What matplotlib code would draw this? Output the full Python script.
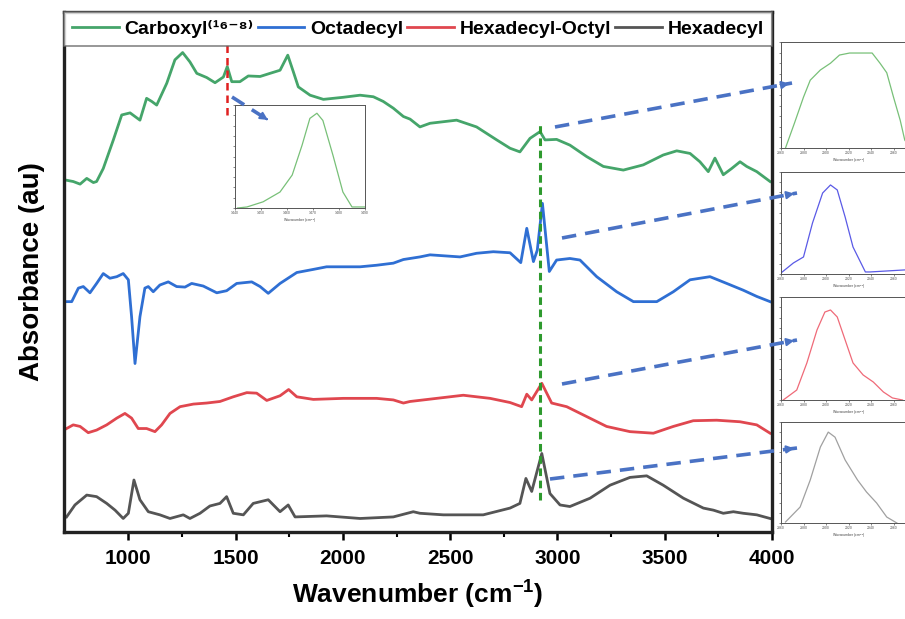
import matplotlib
matplotlib.use("Agg")
import matplotlib.pyplot as plt
from matplotlib.lines import Line2D
from matplotlib.patches import FancyArrowPatch

plt.rcParams['font.family'] = ['Liberation Sans', 'DejaVu Sans']
plt.rcParams['font.weight'] = 'bold'
plt.rcParams['mathtext.fontset'] = 'custom'
plt.rcParams['mathtext.rm'] = 'Liberation Sans:bold'
plt.rcParams['mathtext.bf'] = 'Liberation Sans:bold'
plt.rcParams['mathtext.it'] = 'Liberation Sans:bold'

# ---- stacked FTIR spectra (offset absorbance, a.u.) ----
carboxyl_wn = [705, 743, 775, 806, 837, 852, 883, 930, 969, 1008, 1054, 1085, 1109, 1132, 1179,
               1217, 1253, 1287, 1319, 1365, 1404, 1443, 1461, 1482, 1520, 1559, 1614, 1660,
               1707, 1743, 1769, 1792, 1847, 1909, 2002, 2080, 2142, 2188, 2235, 2282, 2313,
               2359, 2406, 2530, 2623, 2717, 2779, 2825, 2872, 2919, 2942, 2996, 3058, 3136,
               3214, 3307, 3400, 3493, 3556, 3618, 3664, 3703, 3734, 3773, 3812, 3851, 3882,
               3929, 3991]
carboxyl_ab = [.677, .674, .669, .680, .672, .674, .699, .754, .802, .806, .792, .834, .828, .821,
               .863, .908, .922, .904, .882, .874, .864, .875, .895, .866, .866, .877, .876, .882,
               .888, .917, .885, .856, .840, .832, .836, .840, .837, .828, .815, .799, .794,
               .779, .786, .792, .779, .754, .738, .731, .757, .770, .754, .755, .744, .722,
               .703, .696, .706, .725, .733, .728, .712, .693, .719, .687, .699, .712, .703,
               .693, .674]

octadecyl_wn = [705, 736, 767, 790, 821, 852, 883, 914, 946, 976, 1000, 1015, 1031, 1054, 1077,
                1093, 1116, 1147, 1186, 1225, 1264, 1295, 1349, 1412, 1458, 1505, 1575, 1614,
                1652, 1707, 1785, 1862, 1924, 2002, 2080, 2157, 2235, 2282, 2359, 2406, 2546,
                2623, 2701, 2779, 2829, 2857, 2888, 2906, 2930, 2962, 2996, 3058, 3105, 3183,
                3276, 3354, 3463, 3540, 3618, 3711, 3789, 3866, 3929, 3991]
octadecyl_ab = [.443, .443, .469, .472, .460, .478, .497, .488, .491, .497, .485, .414, .324, .414,
                .469, .472, .462, .475, .481, .472, .471, .478, .473, .460, .464, .478, .481, .472,
                .459, .478, .499, .505, .510, .510, .510, .513, .517, .524, .529, .533, .529,
                .536, .539, .537, .518, .584, .520, .542, .632, .501, .523, .526, .523, .491,
                .462, .443, .443, .462, .485, .491, .478, .465, .453, .443]

hexoct_wn = [712, 743, 775, 813, 852, 899, 946, 984, 1015, 1046, 1085, 1124, 1155, 1194, 1241,
             1303, 1365, 1427, 1489, 1552, 1598, 1645, 1707, 1747, 1785, 1862, 2002, 2157,
             2235, 2282, 2313, 2437, 2561, 2686, 2779, 2833, 2857, 2880, 2927, 2973, 3043,
             3136, 3229, 3338, 3447, 3540, 3633, 3742, 3851, 3929, 3991]
hexoct_ab = [.199, .206, .203, .191, .196, .206, .219, .228, .219, .199, .199, .193, .206, .228,
             .241, .246, .248, .251, .260, .268, .267, .253, .262, .274, .260, .255, .257, .257,
             .254, .248, .251, .257, .263, .257, .249, .241, .265, .254, .286, .248, .241,
             .222, .203, .193, .190, .203, .214, .215, .212, .206, .190]

hexadecyl_wn = [712, 751, 806, 852, 899, 938, 976, 1000, 1026, 1054, 1093, 1147, 1194, 1256,
                1287, 1334, 1380, 1427, 1458, 1489, 1536, 1582, 1652, 1707, 1745, 1777, 1924,
                2080, 2235, 2328, 2359, 2468, 2654, 2779, 2825, 2853, 2880, 2927, 2965, 3012,
                3058, 3152, 3245, 3338, 3416, 3493, 3587, 3680, 3727, 3773, 3820, 3866, 3929,
                3991]
hexadecyl_ab = [.029, .052, .071, .068, .055, .042, .026, .036, .100, .062, .039, .033, .026, .033,
                .026, .036, .050, .055, .068, .036, .033, .055, .062, .039, .052, .029, .031,
                .026, .029, .039, .036, .033, .033, .046, .055, .103, .078, .151, .074, .052,
                .049, .065, .090, .105, .108, .090, .065, .046, .042, .036, .039, .036, .033,
                .026]

# ---- zoomed peak profiles (normalised) ----
c1460_wn = [1441, 1444.6, 1450.8, 1457.3, 1462, 1465.8, 1468.8, 1471.5, 1473.8, 1477.7, 1481.5, 1485, 1490]
c1460_ab = [0, .01, .06, .155, .32, .61, .87, .92, .85, .51, .155, .01, .01]

z_carb_wn = [2864, 2872, 2880, 2886, 2895, 2904, 2912, 2921, 2933, 2941, 2948, 2954, 2960, 2966, 2970, 2975]
z_carb_ab = [0, .236, .48, .64, .736, .80, .877, .896, .896, .896, .80, .71, .48, .26, .075, 0]
z_octa_wn = [2860, 2871, 2880, 2888, 2897, 2904, 2910, 2917, 2924, 2935, 2939, 2970, 2980]
z_octa_ab = [.01, .108, .167, .5, .794, .873, .824, .559, .265, .02, .02, .04, .04]
z_hexo_wn = [2862, 2874, 2883, 2892, 2899, 2904, 2910, 2917, 2924, 2933, 2942, 2951, 2959, 2968]
z_hexo_ab = [0, .097, .36, .68, .854, .874, .806, .583, .36, .243, .175, .078, .02, 0]
z_hexa_wn = [2864, 2877, 2886, 2895, 2902, 2908, 2917, 2928, 2936, 2945, 2954, 2963]
z_hexa_ab = [.01, .158, .426, .752, .90, .85, .624, .426, .307, .198, .059, 0]

labels = ["Carboxyl\u207d\u00b9\u2076\u207b\u2078\u207e", "Octadecyl", "Hexadecyl-Octyl", "Hexadecyl"]
colors = ["#45a56a", "#2f6fd3", "#e0474f", "#555555"]
light = ["#78c078", "#5a5ae6", "#ef6a78", "#a0a0a0"]

W, H = 905, 619
fig = plt.figure(figsize=(W / 100, H / 100), dpi=100)


def box(x0, y0, x1, y1):
    return [x0 / W, 1 - y1 / H, (x1 - x0) / W, (y1 - y0) / H]


def fpt(px, py):
    return (px / W, 1 - py / H)


ax = fig.add_axes(box(64, 12, 772, 532))
series = [(carboxyl_wn, carboxyl_ab), (octadecyl_wn, octadecyl_ab),
          (hexoct_wn, hexoct_ab), (hexadecyl_wn, hexadecyl_ab)]
for (x, y), c, lab in zip(series, colors, labels):
    ax.plot(x, y, color=c, lw=2.0, label=lab, solid_joinstyle='round')

ax.plot([2920, 2920], [0.062, 0.783], color="#2e9a2e", lw=2.2, ls=(0, (2.5, 1.5)), zorder=5)
ax.plot([1460, 1460], [0.802, 0.946], color="#e02020", lw=1.8, ls=(0, (3, 2)), zorder=5)

ax.set_xlim(700, 4000)
ax.set_ylim(0, 1)
ax.set_xticks([1000, 1500, 2000, 2500, 3000, 3500, 4000])
ax.set_xticks([1250, 1750, 2250, 2750, 3250, 3750], minor=True)
ax.set_yticks([])
ax.tick_params(axis='x', which='major', direction='out', length=6, width=1.8,
               labelsize=15, pad=6)
ax.tick_params(axis='x', which='minor', direction='out', length=3.5, width=1.5)
for lbl in ax.get_xticklabels():
    lbl.set_fontweight('bold')
for s in ax.spines.values():
    s.set_linewidth(2.4)
    s.set_color("#222222")
ax.set_xlabel(r"Wavenumber (cm$^{-1}$)", fontsize=19, fontweight='bold', labelpad=8)
ax.set_ylabel("Absorbance (au)", fontsize=20, fontweight='bold', labelpad=14)

leg = ax.legend(loc='upper left', bbox_to_anchor=(0, 1, 1, 0), mode='expand', ncol=4,
                borderaxespad=0, fancybox=False, frameon=True, edgecolor="#666666",
                prop={'weight': 'bold', 'size': 14}, handlelength=2.4, handletextpad=0.3,
                columnspacing=0.2, borderpad=0.42)
leg.get_frame().set_linewidth(1.2)


def style_inset(a, xt, xlim):
    a.set_xlim(*xlim)
    a.set_ylim(0, 1)
    a.set_xticks(xt)
    a.set_xticklabels([str(v) for v in xt], fontsize=2.5, fontweight='normal', color="#444444")
    a.set_yticks([i / 10 for i in range(11)])
    a.set_yticklabels([])
    a.tick_params(axis='both', direction='out', length=1.5, width=0.5, pad=1, colors="#555555")
    a.set_xlabel(r"Wavenumber (cm$^{-1}$)", fontsize=2.5, labelpad=1, color="#444444")
    for s in a.spines.values():
        s.set_linewidth(0.7)
        s.set_color("#555555")


# zoom on the 1460 band
ins0 = fig.add_axes(box(235, 105, 365, 208))
ins0.plot(c1460_wn, c1460_ab, color=light[0], lw=0.9)
style_inset(ins0, [1440, 1450, 1460, 1470, 1480, 1490], (1440, 1490))

# zooms on the C-H stretching band of each sample
zoom_data = [(z_carb_wn, z_carb_ab, 42, 148), (z_octa_wn, z_octa_ab, 172, 274),
             (z_hexo_wn, z_hexo_ab, 297, 400), (z_hexa_wn, z_hexa_ab, 422, 523)]
for (x, y, t, b), c in zip(zoom_data, light):
    a = fig.add_axes(box(781, t, 916, b))
    a.plot(x, y, color=c, lw=0.9)
    style_inset(a, [2860, 2880, 2900, 2920, 2940, 2960], (2860, 2980))

# dashed pointers to the zoomed views
arrow_color = "#4a72c4"
pointers = [((232, 97), (268, 120)), ((555, 127), (792, 83)), ((562, 238), (797, 193)),
            ((562, 384), (797, 340)), ((550, 479), (797, 448))]
for (p0, p1) in pointers:
    a0, a1 = fpt(*p0), fpt(*p1)
    fig.add_artist(Line2D([a0[0], a1[0]], [a0[1], a1[1]], transform=fig.transFigure,
                          color=arrow_color, lw=2.6, ls=(0, (4, 2.5)), zorder=20))
    fig.add_artist(FancyArrowPatch(
        (a0[0] + (a1[0] - a0[0]) * 0.96, a0[1] + (a1[1] - a0[1]) * 0.96), a1,
        transform=fig.transFigure, arrowstyle='-|>', mutation_scale=11,
        color=arrow_color, lw=1.5, zorder=21))

fig.savefig("out.png", dpi=100)
